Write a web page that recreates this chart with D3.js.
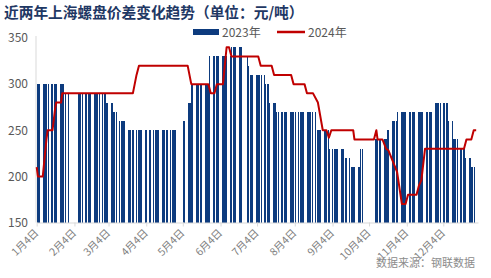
<!DOCTYPE html>
<html lang="zh">

<head>
  <meta charset="UTF-8">
  <title>近两年上海螺盘价差变化趋势</title>
  <style>
    html,
    body {
      margin: 0;
      background: #fff;
    }

    svg {
      display: block;
      font-family: "Noto Sans CJK SC", "Noto Sans", sans-serif;
    }
  </style>
</head>

<body>
  <div id="main"></div>

  <script src="https://cdn.jsdelivr.net/npm/d3@7/dist/d3.min.js"></script>

  <script>
    // 数据
    const seriesNames = ['2023年', '2024年']
    const yTicks = [150, 200, 250, 300, 350]
    const tickMonths = ['01-04', '02-04', '03-04', '04-04', '05-04', '06-04', '07-04', '08-04', '09-04', '10-04', '11-04', '12-04']
    const tickLabels = ['1月4日', '2月4日', '3月4日', '4月4日', '5月4日', '6月4日', '7月4日', '8月4日', '9月4日', '10月4日', '11月4日', '12月4日']

    // 2023 无数据日（假期）
    const closed2023 = ['01-31', '02-01', '02-02', '02-03', '02-06', '04-05', '05-01', '05-02', '05-03',
      '06-22', '06-23', '09-29', '10-02', '10-03', '10-04', '10-05', '10-06']

    // 2023 每个交易日的价差（元/吨），按月
    const values2023 = [
      // 1月
      300, 300, 300, 300, 300, 300, 300, 300, 300, 300, 300, 300, 300, 300, 300, 300, 300, 290, 290,
      // 2月
      290, 290, 290, 290, 290, 290, 290, 290, 290, 290, 290, 290, 290, 290, 290, 290,
      // 3月
      290, 280, 280, 280, 280, 270, 270, 270, 260, 260, 260, 260, 260, 250, 250, 250, 250, 250, 250, 250, 250, 250, 250,
      // 4月
      250, 250, 250, 250, 250, 250, 250, 250, 250, 250, 250, 250, 250, 250, 250, 250, 250, 250, 250,
      // 5月
      260, 260, 280, 280, 280, 300, 300, 300, 300, 300, 300, 300, 300, 300, 300, 300, 330, 330, 330, 330,
      // 6月
      330, 330, 330, 330, 330, 330, 330, 330, 340, 340, 340, 340, 340, 340, 340, 330, 320, 310, 310, 310,
      // 7月
      310, 310, 310, 310, 310, 310, 300, 300, 300, 280, 280, 280, 280, 270, 270, 270, 270, 270, 270, 270, 270,
      // 8月
      270, 270, 270, 270, 270, 270, 270, 270, 270, 270, 270, 270, 270, 270, 270, 250, 250, 250, 250, 250, 250, 250, 250,
      // 9月
      230, 230, 230, 230, 230, 230, 230, 230, 230, 220, 220, 220, 210, 210, 210, 210, 210, 210, 230, 230,
      // 10月
      240, 240, 240, 240, 240, 240, 240, 240, 250, 250, 260, 260, 260, 260, 270, 270, 270,
      // 11月
      270, 270, 270, 270, 270, 270, 270, 270, 270, 270, 270, 270, 270, 270, 270, 270, 270, 270, 280, 280, 280, 280,
      // 12月
      280, 280, 280, 280, 280, 260, 260, 240, 240, 240, 240, 230, 230, 230, 230, 220, 220, 220, 210, 210, 210
    ]

    // 2024 折线的拐点
    const dates2024 = ['01-04', '01-05', '01-09', '01-12', '01-13', '01-17', '01-19', '01-20', '01-24', '01-25',
      '03-24', '03-27', '03-29', '05-08', '05-11', '05-25', '05-27', '05-30', '06-01', '06-06',
      '06-09', '06-11', '06-13', '07-05', '07-07', '07-16', '07-18', '08-01', '08-03', '08-12',
      '08-14', '08-19', '08-23', '08-27', '08-30', '09-01', '09-03', '09-21', '09-22', '10-08',
      '10-10', '10-11', '10-15', '10-18', '10-20', '10-27', '10-31', '11-03', '11-05', '11-12',
      '11-14', '11-16', '11-19', '12-21', '12-23', '12-27', '12-29', '12-31']
    const values2024 = [210, 200, 200, 240, 250, 250, 272, 280, 280, 290,
      290, 310, 320, 320, 300, 300, 290, 290, 300, 300,
      340, 340, 330, 330, 320, 320, 310, 310, 300, 300,
      290, 290, 280, 250, 250, 242, 250, 250, 240, 240,
      250, 240, 240, 230, 228, 205, 170, 170, 180, 180,
      190, 196, 230, 230, 240, 240, 250, 250]

    const md = d3.timeParse('%Y-%m-%d')
    const toDate = s => md('2023-' + s)

    // 交易日
    const closedSet = new Set(closed2023)
    const fmt = d3.timeFormat('%m-%d')
    const days2023 = d3.timeDay.range(toDate('01-04'), toDate('12-30'))
      .filter(d => d.getDay() > 0 && d.getDay() < 6 && !closedSet.has(fmt(d)))
    const bars = days2023.map((d, i) => ({ date: d, value: values2023[i] }))
      .filter(d => d.value != null)
    const line = dates2024.map((s, i) => ({ date: toDate(s), value: values2024[i] }))

    const W = 491, H = 278
    const svg = d3.select('#main').append('svg').attr('width', W).attr('height', H)

    const x = d3.scaleTime()
      .domain([toDate('01-04'), new Date(2024, 0, 1, 12)])
      .range([36.7, 478])
    const y = d3.scaleLinear().domain([150, 350]).range([222.5, 38])
    const dayW = x(toDate('01-05')) - x(toDate('01-04'))

    // 标题
    svg.append('text')
      .attr('x', 4).attr('y', 18)
      .attr('font-size', 14.7).attr('font-weight', 'bold')
      .attr('fill', '#1f3864')
      .text('近两年上海螺盘价差变化趋势（单位：元/吨）')

    // 图例
    const legend = svg.append('g').attr('font-size', 12).attr('fill', '#595959')
    legend.append('rect').attr('x', 193).attr('y', 29).attr('width', 26).attr('height', 6).attr('fill', '#0d3b7e')
    legend.append('text').attr('x', 222).attr('y', 36.5).text(seriesNames[0])
    legend.append('line').attr('x1', 277).attr('x2', 305).attr('y1', 32).attr('y2', 32)
      .attr('stroke', '#c00000').attr('stroke-width', 2.5)
    legend.append('text').attr('x', 308).attr('y', 36.5).text(seriesNames[1])

    // 柱子
    svg.append('g')
      .attr('shape-rendering', 'crispEdges')
      .selectAll('rect')
      .data(bars)
      .join('rect')
      .attr('x', d => x(d.date) - dayW * 0.1)
      .attr('width', dayW * 0.8)
      .attr('y', d => y(d.value))
      .attr('height', d => y(150) - y(d.value))
      .attr('fill', '#0d3b7e')

    // 坐标轴
    svg.append('line').attr('x1', 36).attr('x2', 36).attr('y1', 36).attr('y2', 222.5)
      .attr('stroke', '#d9d9d9')
    const xAxis = svg.append('g').attr('transform', `translate(0,${y(150)})`)
      .call(d3.axisBottom(x)
        .tickValues(tickMonths.map(toDate))
        .tickFormat((d, i) => tickLabels[i])
        .tickSize(4)
        .tickSizeOuter(0))
    xAxis.select('.domain').attr('stroke', '#d9d9d9')
    xAxis.selectAll('.tick line').attr('stroke', '#d9d9d9')
    xAxis.selectAll('.tick text')
      .attr('font-family', '"Noto Sans CJK SC", sans-serif')
      .attr('font-size', 10.5)
      .attr('fill', '#7f7f7f')
      .attr('text-anchor', 'end')
      .attr('dy', 0)
      .attr('transform', 'translate(2,11) rotate(-45)')
      .attr('y', 0).attr('x', 0)

    const yAxis = svg.append('g').attr('transform', 'translate(36,0)')
      .call(d3.axisLeft(y).tickValues(yTicks).tickSize(0).tickPadding(8))
    yAxis.select('.domain').remove()
    yAxis.selectAll('.tick text')
      .attr('font-family', '"Noto Sans CJK SC", sans-serif')
      .attr('font-size', 12)
      .attr('fill', '#595959')

    // 2024 折线
    svg.append('path')
      .datum(line)
      .attr('fill', 'none')
      .attr('stroke', '#c00000')
      .attr('stroke-width', 2)
      .attr('stroke-linejoin', 'round')
      .attr('d', d3.line().x(d => x(d.date)).y(d => y(d.value)))

    // 数据来源
    svg.append('text')
      .attr('x', 475).attr('y', 267)
      .attr('text-anchor', 'end')
      .attr('font-size', 11)
      .attr('fill', '#8c8c8c')
      .text('数据来源：钢联数据')
  </script>
</body>

</html>
